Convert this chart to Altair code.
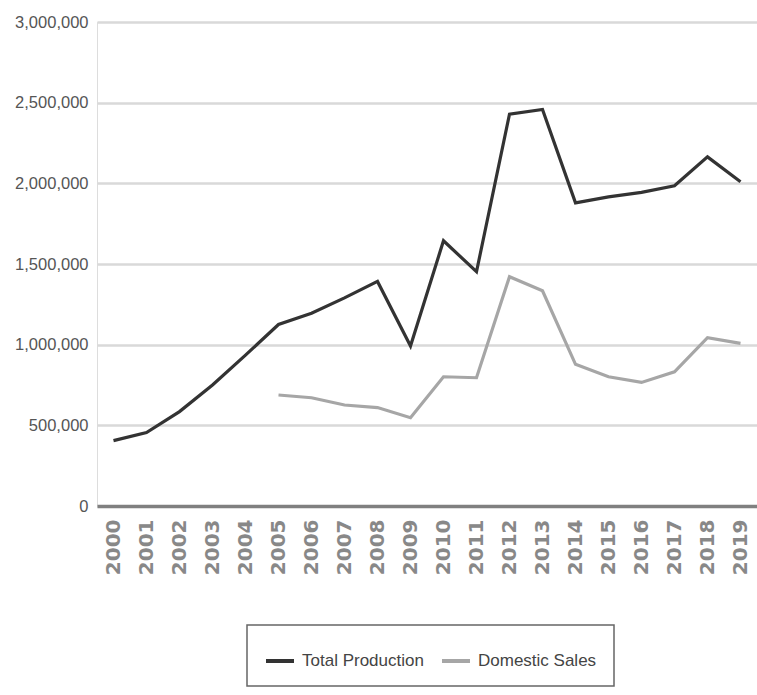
import altair as alt
import pandas as pd

years = [str(y) for y in range(2000, 2020)]
total_production = [405000, 455000, 585000, 750000, 935000, 1125000, 1195000, 1290000,
                    1392000, 992000, 1644000, 1452000, 2429000, 2458000, 1879000, 1916000,
                    1944000, 1985000, 2164000, 2010000]
domestic_sales = [None, None, None, None, None, 688000, 671000, 626000, 610000, 547000,
                  801000, 795000, 1421000, 1334000, 878000, 801000, 766000, 832000,
                  1043000, 1008000]
series_names = ["Total Production", "Domestic Sales"]

rows = []
for i, y in enumerate(years):
    rows.append({"Year": y, "Series": series_names[0], "Value": total_production[i]})
    if domestic_sales[i] is not None:
        rows.append({"Year": y, "Series": series_names[1], "Value": domestic_sales[i]})
df = pd.DataFrame(rows)

sans = "Liberation Sans"

chart = alt.Chart(df).mark_line(strokeWidth=3.2).encode(
    x=alt.X("Year:O", sort=years, title=None,
            scale=alt.Scale(type="point", padding=0.5),
            axis=alt.Axis(labelAngle=270, labelAlign="right", labelBaseline="middle",
                          labelFont="DejaVu Sans", labelFontSize=20, labelFontWeight="bold",
                          labelColor="#888888", labelPadding=13, ticks=False,
                          domainColor="#808080", domainWidth=3.5, grid=False)),
    y=alt.Y("Value:Q", title=None,
            scale=alt.Scale(domain=[0, 3000000], nice=False),
            axis=alt.Axis(values=[0, 500000, 1000000, 1500000, 2000000, 2500000, 3000000],
                          format=",d", labelFont=sans, labelFontSize=16.5, labelColor="#555555",
                          labelPadding=9, ticks=False, domain=False,
                          gridColor="#d9d9d9", gridWidth=2.5)),
    color=alt.Color("Series:N", sort=series_names,
                    scale=alt.Scale(domain=series_names, range=["#333333", "#a6a6a6"]),
                    legend=alt.Legend(title=None, orient="none", direction="horizontal",
                                      legendX=150, legendY=603,
                                      symbolType="M-1,0H0.647",
                                      symbolStrokeWidth=4, symbolSize=1156,
                                      labelOffset=0,
                                      labelFont=sans, labelFontSize=17, labelColor="#444444",
                                      strokeColor="#666666",
                                      padding=17, columnPadding=10,
                                      labelLimit=300)),
).properties(
    width=660, height=484,
    autosize=alt.AutoSizeParams(type="none"),
    padding={"left": 97, "top": 22, "right": 0, "bottom": 189},
).configure_view(stroke=None).configure(background="white").configure_legend(strokeWidth=1.5)

chart.save("out.html", embed_options={"renderer": "svg", "actions": False})
